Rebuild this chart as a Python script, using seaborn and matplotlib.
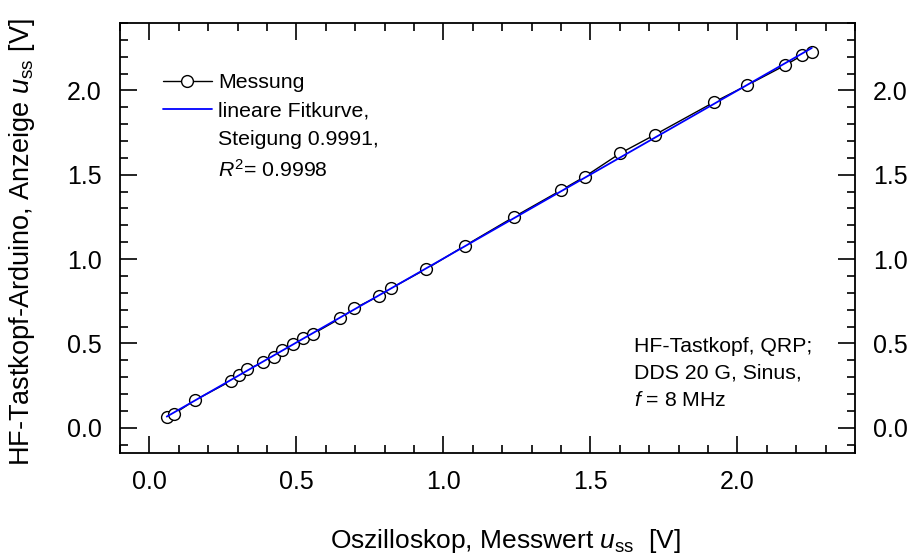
import matplotlib
matplotlib.use("Agg")
import matplotlib.pyplot as plt
from matplotlib.lines import Line2D
from matplotlib.ticker import MultipleLocator
import seaborn as sns
import pandas as pd

# Oscilloscope reading (x) vs. Arduino HF probe reading (y), in V (peak-to-peak)
x_osz = [0.059, 0.085, 0.155, 0.278, 0.306, 0.332, 0.388, 0.424, 0.450, 0.488,
         0.522, 0.556, 0.649, 0.697, 0.780, 0.822, 0.940, 1.074, 1.239, 1.400,
         1.481, 1.601, 1.720, 1.921, 2.032, 2.162, 2.221, 2.253]
y_ard = [0.061, 0.084, 0.163, 0.278, 0.312, 0.346, 0.387, 0.421, 0.460, 0.496,
         0.530, 0.556, 0.648, 0.708, 0.780, 0.827, 0.940, 1.080, 1.249, 1.408,
         1.489, 1.627, 1.738, 1.931, 2.030, 2.149, 2.209, 2.227]
x_ticks = [0.0, 0.5, 1.0, 1.5, 2.0]
y_ticks = [0.0, 0.5, 1.0, 1.5, 2.0]
legend_labels = ["Messung", "lineare Fitkurve,", "Steigung 0.9991,", r"$\mathit{R}^2$= 0.9998"]
note_lines = ["HF-Tastkopf, QRP;", "DDS 20 G, Sinus,", r"$\mathit{f}$ = 8 MHz"]

df = pd.DataFrame({"x": x_osz, "y": y_ard})

sns.set_style("ticks")
plt.rcParams["font.family"] = ["Liberation Sans", "DejaVu Sans"]
plt.rcParams["mathtext.fontset"] = "custom"
plt.rcParams["mathtext.rm"] = "Liberation Sans"
plt.rcParams["mathtext.it"] = "Liberation Sans:italic"
plt.rcParams["mathtext.bf"] = "Liberation Sans:bold"
plt.rcParams["text.color"] = "black"
plt.rcParams["axes.labelcolor"] = "black"

fig = plt.figure(figsize=(9.15, 5.59), dpi=100)
ax = fig.add_axes([120 / 915, 1 - 453 / 559, 735 / 915, 430 / 559])

sns.lineplot(data=df, x="x", y="y", ax=ax, color="black", linewidth=1.0,
             marker="o", markersize=8.5, markerfacecolor="white",
             markeredgecolor="black", markeredgewidth=1.0,
             estimator=None, zorder=2)
sns.regplot(data=df, x="x", y="y", ax=ax, scatter=False, ci=None,
            line_kws={"color": "#0000ff", "linewidth": 1.3, "zorder": 3})

ax.set_xlim(-0.1, 2.4)
ax.set_ylim(-0.15, 2.4)
ax.set_xticks(x_ticks)
ax.set_yticks(y_ticks)
ax.set_xticklabels([f"{v:.1f}" for v in x_ticks])
ax.set_yticklabels([f"{v:.1f}" for v in y_ticks])
ax.xaxis.set_minor_locator(MultipleLocator(0.1))
ax.yaxis.set_minor_locator(MultipleLocator(0.1))

for s in ax.spines.values():
    s.set_visible(True)
    s.set_color("black")
    s.set_linewidth(1.3)

ax.tick_params(which="both", direction="in", top=True, right=True,
               labelright=True, colors="black", width=1.2, labelsize=18)
ax.tick_params(which="major", length=12.5)
ax.tick_params(which="minor", length=6)
ax.tick_params(axis="x", which="major", pad=12)
ax.tick_params(axis="y", which="major", pad=13)

ax.set_xlabel(r"Oszilloskop, Messwert $\mathit{u}_{\mathrm{ss}}$  [V]", fontsize=19)
ax.set_ylabel(r"HF-Tastkopf-Arduino, Anzeige $\mathit{u}_{\mathrm{ss}}$ [V]", fontsize=19.5)
ax.xaxis.set_label_coords(0.524, -0.172)
ax.yaxis.set_label_coords(-0.113, 0.49)

handles = [
    Line2D([], [], color="black", linewidth=1.0, marker="o", markersize=8.5,
           markerfacecolor="white", markeredgecolor="black"),
    Line2D([], [], color="#0000ff", linewidth=1.3),
    Line2D([], [], color="none"),
    Line2D([], [], color="none"),
]
leg = ax.legend(handles, legend_labels, loc="upper left",
                bbox_to_anchor=(43 / 735, 1 - 50 / 430), frameon=False,
                fontsize=15.3, handlelength=2.3, handletextpad=0.3,
                labelspacing=0.45, borderpad=0, borderaxespad=0)

for i, line in enumerate(note_lines):
    ax.text(634 / 915, 1 - (346 + 27 * i) / 559, line, transform=fig.transFigure,
            fontsize=15.3, ha="left", va="center")

fig.savefig("out.png", dpi=100)
